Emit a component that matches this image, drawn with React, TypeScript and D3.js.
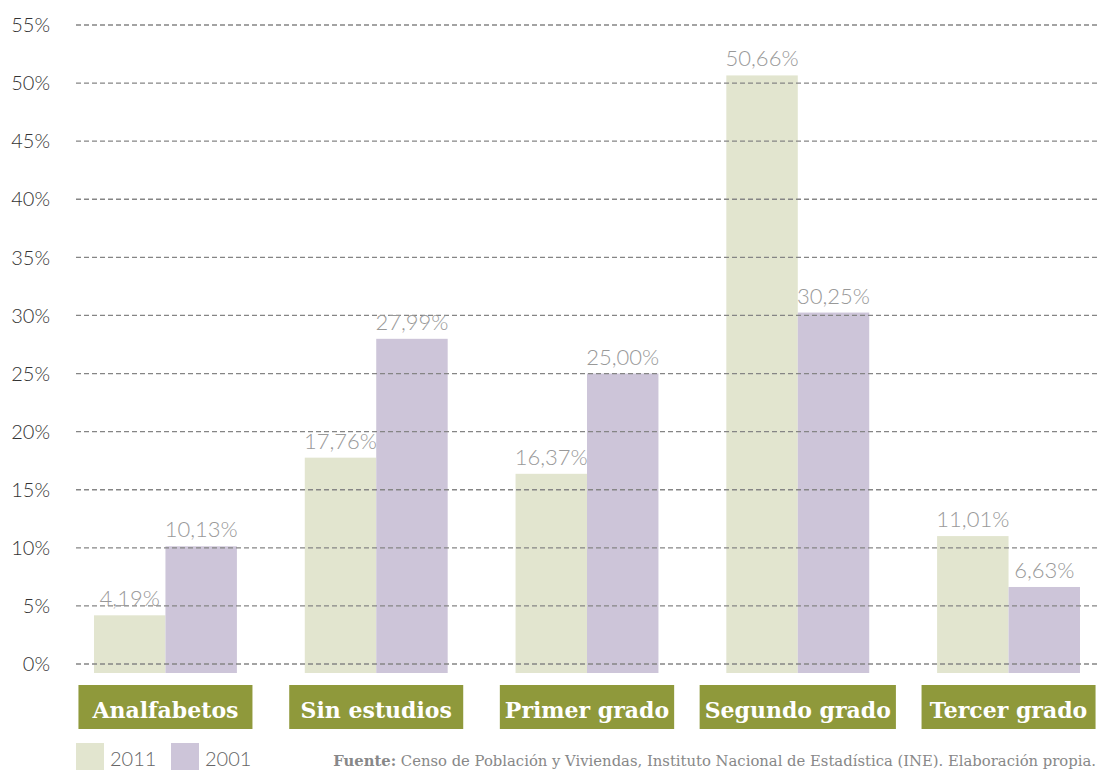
import React, { useLayoutEffect, useRef, useState } from "react";
import * as d3 from "d3";

const categories = ["Analfabetos", "Sin estudios", "Primer grado", "Segundo grado", "Tercer grado"];
const series = ["2011", "2001"];
const values2011 = [4.19, 17.76, 16.37, 50.66, 11.01];
const values2001 = [10.13, 27.99, 25.0, 30.25, 6.63];
const yTicks = [0, 5, 10, 15, 20, 25, 30, 35, 40, 45, 50, 55];
const source = "Censo de Población y Viviendas, Instituto Nacional de Estadística (INE). Elaboración propia.";

const W = 1097;
const H = 770;
const colors = ["#e2e5cf", "#cdc5d9"];
const olive = "#8f993b";

export default function App() {
  const y = d3.scaleLinear().domain([0, 55]).range([664, 25]);
  const x = d3.scaleBand<string>().domain(categories).range([94, 1080]).paddingInner(0.322).paddingOuter(0);
  const xs = d3.scaleBand<string>().domain(series).range([0, x.bandwidth()]);
  const barBottom = y(0) + 9;
  const fmt = (v: number) => v.toFixed(2).replace(".", ",") + "%";
  const data = [values2011, values2001];

  const textRefs = useRef<(SVGTextElement | null)[]>([]);
  const [widths, setWidths] = useState<number[]>(categories.map(() => 174));
  useLayoutEffect(() => {
    const w = textRefs.current.map((t) => (t ? Math.max(174, t.getComputedTextLength() + 10) : 174));
    setWidths(w);
  }, []);

  return (
    <svg width={W} height={H} style={{ position: "absolute", left: 0, top: 0, display: "block" }}>
      <rect x={0} y={0} width={W} height={H} fill="#fff" />
      {/* bars */}
      {categories.map((c, i) => (
        <g key={c} transform={`translate(${x(c)},0)`}>
          {series.map((s, j) => {
            const v = data[j][i];
            return (
              <rect key={s} x={xs(s)} y={y(v)} width={xs.bandwidth()} height={barBottom - y(v)} fill={colors[j]} />
            );
          })}
        </g>
      ))}
      {/* gridlines */}
      {yTicks.map((t) => (
        <line key={t} x1={76} x2={W} y1={y(t)} y2={y(t)} stroke="#858585" strokeWidth={1.3} strokeDasharray="5,3" />
      ))}
      {/* y labels */}
      {yTicks.map((t) => (
        <text key={t} x={50} y={y(t)} dy="0.36em" textAnchor="end" fontFamily="Lato" fontWeight={300} fontSize={20} fill="#333">
          {t + "%"}
        </text>
      ))}
      {/* value labels */}
      {categories.map((c, i) =>
        series.map((s, j) => {
          const v = data[j][i];
          return (
            <text key={c + s} x={(x(c) as number) + (xs(s) as number) + xs.bandwidth() / 2} y={y(v) - 9} textAnchor="middle" fontFamily="Lato" fontWeight={300} fontSize={22} fill="#999">
              {fmt(v)}
            </text>
          );
        })
      )}
      {/* category boxes */}
      {categories.map((c, i) => {
        const cx = (x(c) as number) + x.bandwidth() / 2;
        const w = widths[i];
        return (
          <g key={c}>
            <rect x={cx - w / 2} y={685} width={w} height={44} fill={olive} />
            <text ref={(el) => { textRefs.current[i] = el; }} x={cx} y={718} textAnchor="middle" fontFamily="DejaVu Serif" fontWeight="bold" fontSize={22} fill="#fff">
              {c}
            </text>
          </g>
        );
      })}
      {/* legend */}
      {series.map((s, j) => (
        <g key={s} transform={`translate(${76 + j * 95},743)`}>
          <rect x={0} y={0} width={28} height={30} fill={colors[j]} />
          <text x={34} y={23} fontFamily="Lato" fontWeight={300} fontSize={20} fill="#666">{s}</text>
        </g>
      ))}
      {/* source */}
      <text x={1096} y={766} textAnchor="end" fontFamily="DejaVu Serif" fontSize={14.8} fill="#888">
        <tspan fontWeight="bold">Fuente:</tspan> {source}
      </text>
    </svg>
  );
}
